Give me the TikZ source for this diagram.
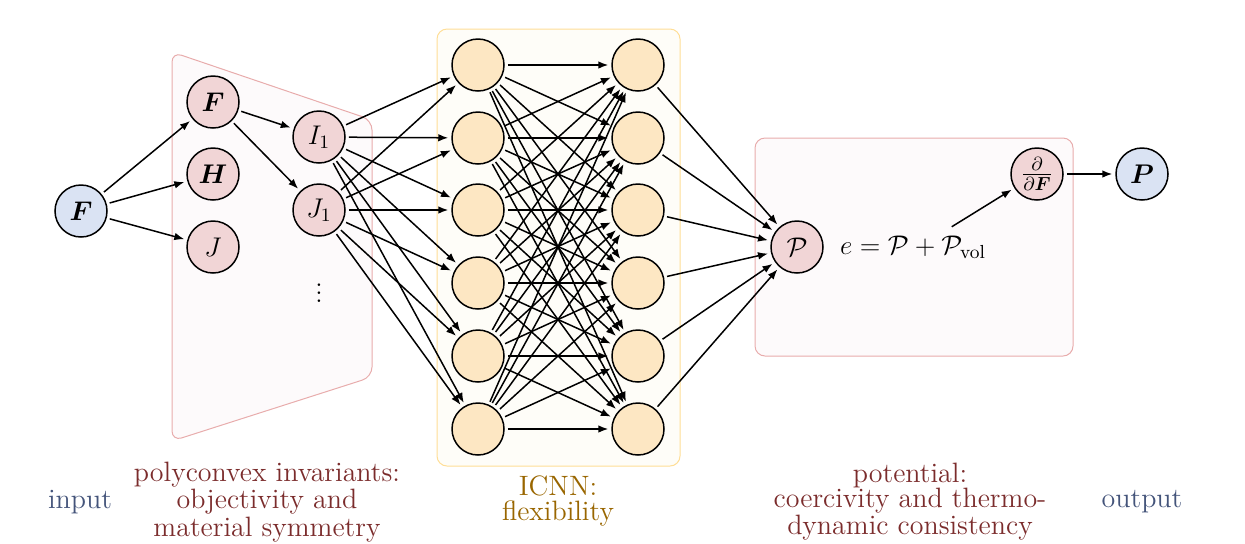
\documentclass[tikz,border=0pt]{standalone}
\usepackage{fix-cm}
\usepackage{bm}
\usetikzlibrary{arrows.meta,calc}

\definecolor{inblue}{RGB}{218,227,243}
\definecolor{invpink}{RGB}{241,213,214}
\definecolor{icnnfill}{RGB}{253,231,195}
\definecolor{boxred}{RGB}{232,172,172}
\definecolor{boxyellow}{RGB}{255,222,150}
\definecolor{txtblue}{RGB}{68,84,122}
\definecolor{txtred}{RGB}{123,44,44}
\definecolor{txtgold}{RGB}{153,102,0}

\tikzset{every picture/.style={line width=0.75pt}}
\tikzset{
  neuron/.style={circle,draw,minimum size=26pt,inner sep=0pt,font=\fontsize{13.5}{12.5}\selectfont},
  inout/.style={neuron,fill=inblue},
  inv/.style={neuron,fill=invpink},
  icnn/.style={neuron,fill=icnnfill},
  conn/.style={-{Latex[length=5pt,width=3.8pt]},shorten <=1.5pt,shorten >=1.5pt},
  caption/.style={align=center,font=\fontsize{14}{12.5}\selectfont}
}

\begin{document}
\begin{tikzpicture}[x=0.5pt,y=0.5pt,yscale=-1,xscale=1]
\useasboundingbox (0,0) rectangle (1245,543);

%Shape: Trapezoid, invariants
\draw [boxred,line width=0.5pt,fill={rgb,255:red,253;green,250;blue,251},rounded corners=5pt] (172,52) -- (372,120) -- (372,377) -- (172,441) -- cycle ;
%Shape: Rectangle, ICNN
\draw [boxyellow,line width=0.5pt,fill={rgb,255:red,254;green,253;blue,248},rounded corners=5pt] (437,29) rectangle (680,466) ;
%Shape: Rectangle, potential
\draw [boxred,line width=0.5pt,fill={rgb,255:red,253;green,250;blue,251},rounded corners=5pt] (755,138) rectangle (1073,356) ;

%Input
\node [inout] (inF) at (81,211) {$\bm{F}$};
%Invariant nodes
\node [inv] (F) at (213,102) {$\bm{F}$};
\node [inv] (H) at (213,174) {$\bm{H}$};
\node [inv] (J) at (213,247) {$J$};
\node [inv] (I1) at (319,137) {$I_1$};
\node [inv] (J1) at (319,210) {$J_1$};
\node [font=\fontsize{13.5}{12.5}\selectfont] (dots) at (319,287) {$\vdots$};

%ICNN layers
\foreach \i/\y in {1/65,2/138,3/210,4/283,5/356,6/429} {
  \node [icnn] (a\i) at (478,\y) {};
  \node [icnn] (b\i) at (638,\y) {};
}

%Potential and output
\node [inv] (pot) at (797,247) {$\mathcal{P}$};
\node [font=\fontsize{13.5}{12.5}\selectfont] (energy) at (913,247) {$e=\mathcal{P}+\mathcal{P}_{\mathrm{vol}}$};
\node [inv] (dF) at (1037,174) {$\frac{\partial}{\partial\bm{F}}$};
\node [inout] (outP) at (1142,174) {$\bm{P}$};

%Connections
\foreach \t in {F,H,J} \draw [conn] (inF) -- (\t);
\draw [conn] (F) -- (I1);
\draw [conn] (F) -- (J1);
\foreach \i in {1,...,6} {
  \draw [conn] (I1) -- (a\i);
  \draw [conn] (J1) -- (a\i);
  \foreach \j in {1,...,6} \draw [conn] (a\i) -- (b\j);
  \draw [conn] (b\i) -- (pot);
}
\draw [conn] ($(energy.north)!0.45!(energy.north east)$) -- (dF);
\draw [conn] (dF) -- (outP);

% Text Node
\node [caption,txtblue] (lin) at (80,502) {input};
% Text Node
\node [caption,txtred] (linv) at (267,502) {polyconvex invariants:\\objectivity and\\material symmetry};
% Text Node
\node [caption,txtgold] (licnn) at (558,501) {ICNN:\\flexibility};
% Text Node
\node [caption,txtred] (lpot) at (910,502) {potential:\\coercivity and thermo-\\dynamic consistency};
% Text Node
\node [caption,txtblue] (lout) at (1142,502) {output};

\end{tikzpicture}
\end{document}
